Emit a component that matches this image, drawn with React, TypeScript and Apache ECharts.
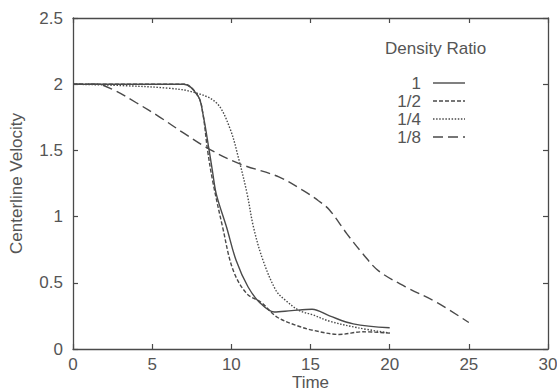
import React, { useEffect, useRef } from "react";
import * as echarts from "echarts";

const legendTitle = "Density Ratio";
const seriesNames = ["1", "1/2", "1/4", "1/8"];

const ratio1: [number, number][] = [
  [0, 2], [7, 2], [7.9, 1.91], [8.2, 1.78], [8.6, 1.5], [8.8, 1.35], [9.05, 1.17],
  [9.7, 0.92], [10.3, 0.67], [11.05, 0.47], [11.8, 0.35], [12.7, 0.28], [13.8, 0.29],
  [15.1, 0.3], [16.2, 0.25], [17.7, 0.19], [20, 0.16],
];
const ratio2: [number, number][] = [
  [0, 2], [7, 2], [7.9, 1.91], [8.2, 1.78], [8.5, 1.5], [8.82, 1.27], [9.45, 0.92],
  [10.1, 0.6], [10.96, 0.42], [11.9, 0.35], [12.9, 0.24], [14.3, 0.17], [15.2, 0.14],
  [16.8, 0.11], [18.3, 0.13], [20, 0.12],
];
const ratio4: [number, number][] = [
  [0, 2], [3, 1.99], [6, 1.97], [7.6, 1.94], [9.05, 1.86], [9.9, 1.67], [10.5, 1.42],
  [11.0, 1.17], [11.4, 0.92], [12.0, 0.67], [12.83, 0.44], [13.4, 0.37], [14.3, 0.29],
  [15.1, 0.26], [16.2, 0.21], [18, 0.16], [20, 0.12],
];
const ratio8: [number, number][] = [
  [0, 2], [1.5, 2], [2.5, 1.96], [4, 1.86], [5.5, 1.75], [7, 1.63], [8.6, 1.51],
  [10.5, 1.4], [13, 1.3], [14.5, 1.2], [15.5, 1.12], [16.2, 1.05], [17.3, 0.87],
  [18.3, 0.72], [19.3, 0.59], [21, 0.47], [23, 0.35], [25, 0.2],
];

const dashes: (number[] | null)[] = [null, [4, 2], [1.5, 1.6], [10, 5]];
const seriesData = [ratio1, ratio2, ratio4, ratio8];

const INK = "#4a4a4a";
const TXT = "#555";
const FONT = "'Liberation Sans', Arial, Helvetica, sans-serif";
const FS = 17;

export default function App() {
  const ref = useRef<HTMLDivElement>(null);
  useEffect(() => {
    if (!ref.current) return;
    const chart = echarts.init(ref.current, undefined, { renderer: "svg" });
    const axisCommon = {
      type: "value" as const,
      axisLine: { show: true, onZero: false, lineStyle: { color: INK, width: 1.3 } },
      axisTick: { show: true, inside: true, length: 5, lineStyle: { color: INK, width: 1.2 } },
      splitLine: { show: false },
    };
    const legendGraphics: any[] = [
      {
        type: "text",
        left: 385,
        top: 40,
        style: { text: legendTitle, fill: TXT, font: `${FS}px ${FONT}` },
      },
    ];
    const rows = [83, 101, 119, 137];
    seriesNames.forEach((n, i) => {
      legendGraphics.push({
        type: "text",
        x: 421,
        y: rows[i],
        style: {
          text: n,
          fill: TXT,
          font: `${FS}px ${FONT}`,
          align: "right",
          verticalAlign: "middle",
        },
      });
      legendGraphics.push({
        type: "line",
        shape: { x1: 433, y1: rows[i], x2: 465, y2: rows[i] },
        style: { stroke: INK, lineWidth: 1.4, lineDash: dashes[i] || undefined },
      });
    });
    chart.setOption({
      animation: false,
      backgroundColor: "#fff",
      textStyle: { fontFamily: FONT },
      grid: {
        left: 73,
        right: 9,
        top: 18,
        bottom: 43,
        containLabel: false,
        outerBoundsMode: "none",
      },
      xAxis: [
        {
          ...axisCommon,
          position: "bottom",
          min: 0,
          max: 30,
          interval: 5,
          name: "Time",
          nameLocation: "middle",
          nameGap: 25,
          nameMoveOverlap: false,
          nameTextStyle: { color: TXT, fontSize: FS, lineHeight: 17, fontFamily: FONT },
          axisLabel: { color: TXT, fontSize: FS, lineHeight: 17, margin: 7, fontFamily: FONT },
        },
        {
          ...axisCommon,
          position: "top",
          min: 0,
          max: 30,
          interval: 5,
          axisLabel: { show: false },
        },
      ],
      yAxis: [
        {
          ...axisCommon,
          position: "left",
          min: 0,
          max: 2.5,
          interval: 0.5,
          name: "Centerline Velocity",
          nameLocation: "middle",
          nameGap: 48,
          nameMoveOverlap: false,
          nameTextStyle: { color: TXT, fontSize: FS, fontFamily: FONT },
          axisLabel: {
            color: TXT,
            fontSize: FS,
            margin: 10,
            fontFamily: FONT,
            formatter: (v: number) => String(v),
          },
        },
        {
          ...axisCommon,
          position: "right",
          min: 0,
          max: 2.5,
          interval: 0.5,
          axisLabel: { show: false },
        },
      ],
      series: seriesData.map((d, i) => ({
        name: seriesNames[i],
        type: "line",
        data: d,
        showSymbol: false,
        symbol: "none",
        smooth: 0.35,
        lineStyle: {
          color: INK,
          width: 1.4,
          type: dashes[i] ? dashes[i] : "solid",
        },
        z: 3,
      })),
      graphic: legendGraphics,
    });
    return () => chart.dispose();
  }, []);
  return <div ref={ref} style={{ width: 557, height: 392, position: "absolute", left: 0, top: 0 }} />;
}
